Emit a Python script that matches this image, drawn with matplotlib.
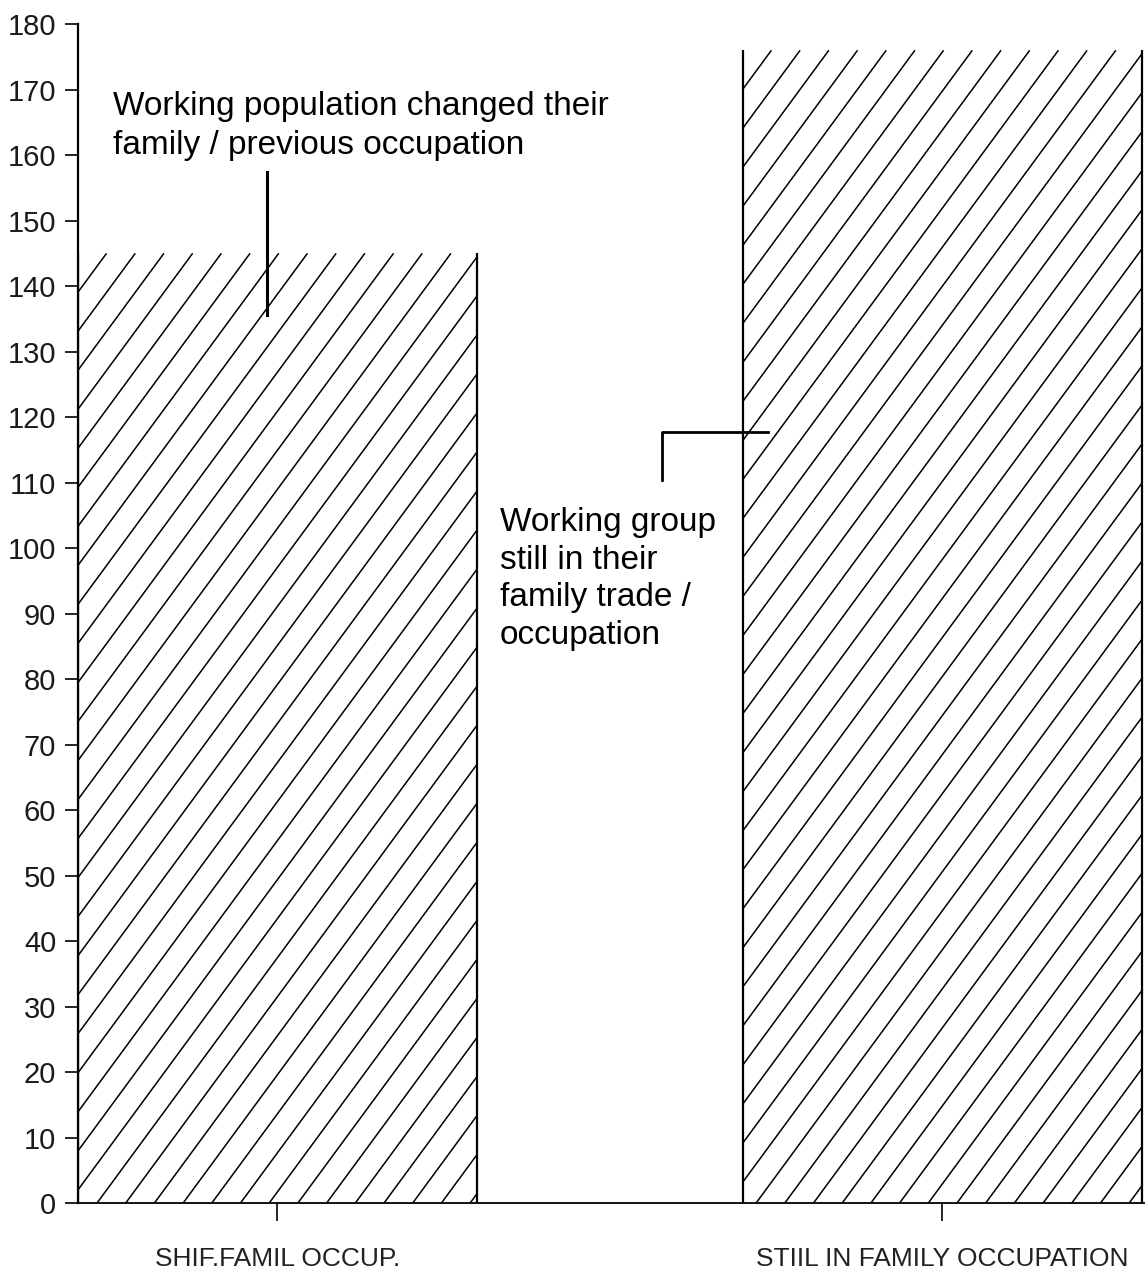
import numpy as np
import matplotlib.pyplot as plt
from matplotlib.collections import LineCollection

# Data
categories = ["SHIF.FAMIL OCCUP.", "STIIL IN FAMILY OCCUPATION"]
values = [145, 176]
y_ticks = list(range(0, 181, 10))
note_changed = "Working population changed their\nfamily / previous occupation"
note_still = "Working group\nstill in their\nfamily trade /\noccupation"

plain = ['Liberation Sans', 'DejaVu Sans']

fig = plt.figure(figsize=(11.45, 12.79), dpi=100)
ax = fig.add_axes([0.068, 0.0594, 0.932, 0.9218])

x = np.arange(len(categories))
width = 0.6
bars = ax.bar(x, values, width=width, color='white', edgecolor='none')

ax.set_xlim(-0.3, 1.305)
ax.set_ylim(0, 180)

# hand-drawn looking hatch: steeper than 45 deg, clipped to each bar
p0 = ax.transData.transform((0, 0))
p1 = ax.transData.transform((1, 10))
px_x = p1[0] - p0[0]
px_y = (p1[1] - p0[1]) / 10
step = 28.7 / px_x
slope = 1.36
for b in bars:
    L, H = b.get_x(), b.get_height()
    R = L + b.get_width()
    run = H * px_y / slope / px_x
    starts = np.arange(L - run, R, step)
    segs = [[(s, 0), (s + run, H)] for s in starts]
    lc = LineCollection(segs, colors='black', linewidths=1.1)
    ax.add_collection(lc)
    lc.set_clip_path(b)
    ax.vlines([L, R], 0, H, colors='black', linewidth=1.6)

for s in ['top', 'right']:
    ax.spines[s].set_visible(False)
ax.spines['left'].set_linewidth(1.6)
ax.spines['bottom'].set_linewidth(1.3)

ax.set_yticks(y_ticks)
ax.set_yticklabels([str(v) for v in y_ticks], family=plain, fontsize=21,
                   color='#1a1a1a')
ax.tick_params(axis='y', length=9.5, width=1.2, pad=6, color='black')

ax.set_xticks(x)
ax.set_xticklabels(categories, family=plain, fontsize=19, color='#222222')
ax.tick_params(axis='x', length=13, width=1.2, pad=19, color='black')

# annotations
ax.text(-0.2466, 169.8, note_changed, ha='left', va='top', fontsize=24,
        family=plain, linespacing=1.33)
ax.plot([-0.015, -0.015], [135.6, 157.4], color='black', lw=2.2)

ax.text(0.335, 106.2, note_still, ha='left', va='top', fontsize=24,
        family=plain, linespacing=1.27)
ax.plot([0.579, 0.579, 0.738], [110.4, 117.7, 117.7], color='black', lw=2)

fig.savefig('out.png', dpi=100)
